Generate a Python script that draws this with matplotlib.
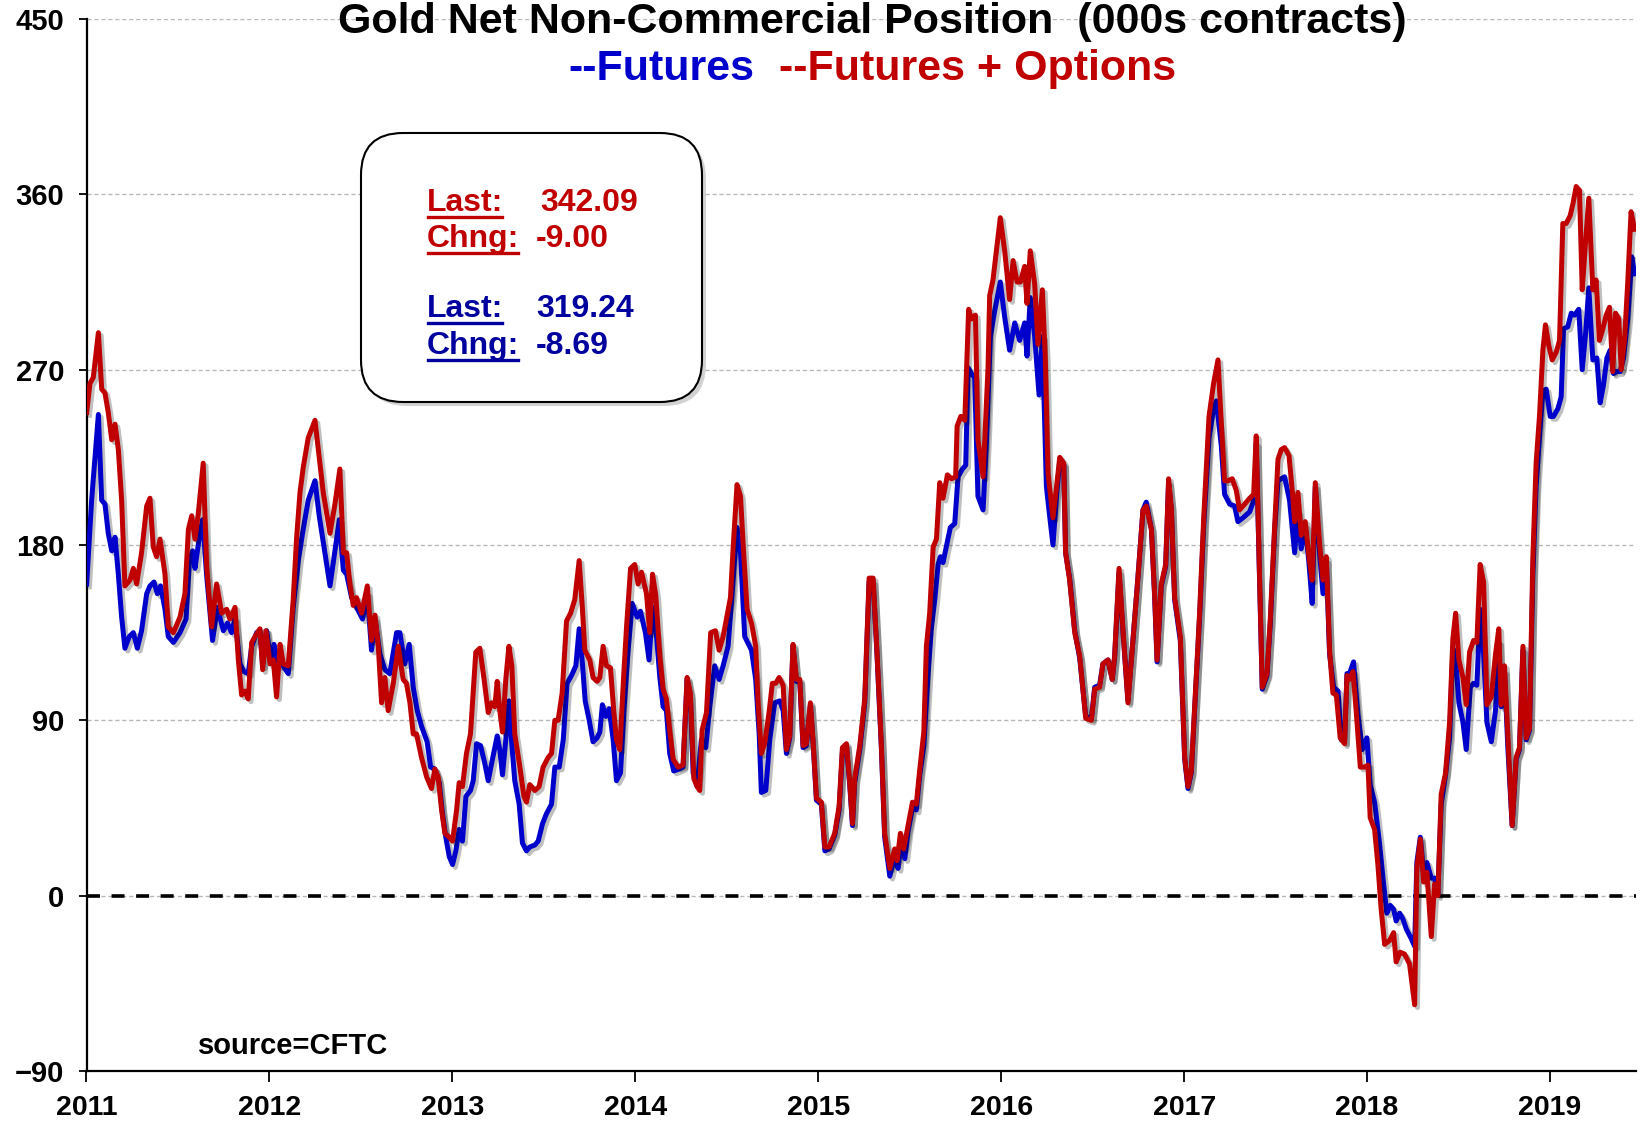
import numpy as np
import matplotlib
matplotlib.use("Agg")
import matplotlib.pyplot as plt
import matplotlib.patheffects as pe
from matplotlib.patches import FancyBboxPatch
from matplotlib.lines import Line2D

plt.rcParams['font.family'] = ['Liberation Sans', 'DejaVu Sans']

# net non-commercial position, 000s contracts (decimal year, value)
futopt_pts = [
    (2011.001,248),(2011.019,263),(2011.037,266),(2011.065,289),(2011.083,260),(2011.101,258),(2011.119,248),
    (2011.138,234),(2011.156,242),(2011.174,229),(2011.192,203),(2011.210,159),(2011.238,162),(2011.256,168),
    (2011.274,160),(2011.301,176),(2011.329,200),(2011.347,204),(2011.365,179),(2011.383,174),(2011.402,183),
    (2011.429,165),(2011.447,138),(2011.475,135),(2011.511,143),(2011.538,155),(2011.557,188),(2011.575,195),
    (2011.593,183),(2011.611,196),(2011.638,222),(2011.657,169),(2011.684,138),(2011.711,160),(2011.739,145),
    (2011.766,147),(2011.784,142),(2011.812,148),(2011.830,121),(2011.848,103),(2011.866,105),(2011.884,101),
    (2011.903,130),(2011.921,133),(2011.948,137),(2011.963,116),(2011.981,136),(2012.003,119),(2012.021,121),
    (2012.039,102),(2012.058,129),(2012.076,119),(2012.103,118),(2012.130,152),(2012.148,183),(2012.167,207),
    (2012.185,220),(2012.212,235),(2012.249,244),(2012.267,229),(2012.294,207),(2012.331,186),(2012.358,201),
    (2012.385,219),(2012.404,176),(2012.422,176),(2012.440,160),(2012.458,149),(2012.476,153),(2012.504,145),
    (2012.535,159),(2012.558,131),(2012.577,144),(2012.595,128),(2012.613,99),(2012.631,112),(2012.649,95),
    (2012.677,109),(2012.704,128),(2012.731,111),(2012.749,109),(2012.768,99),(2012.786,83),(2012.804,83),
    (2012.831,71),(2012.859,61),(2012.886,55),(2012.904,65),(2012.922,61),(2012.941,44),(2012.959,32),
    (2012.983,30),(2013.001,28),(2013.023,44),(2013.037,58),(2013.055,56),(2013.077,73),(2013.099,83),
    (2013.128,125),(2013.150,127),(2013.172,112),(2013.196,94),(2013.214,99),(2013.232,97),(2013.245,110),
    (2013.259,95),(2013.274,84),(2013.292,111),(2013.309,128),(2013.325,118),(2013.341,83),(2013.369,66),
    (2013.391,51),(2013.405,48),(2013.423,57),(2013.451,54),(2013.474,56),(2013.496,66),(2013.524,71),
    (2013.542,73),(2013.560,90),(2013.578,90),(2013.600,104),(2013.624,141),(2013.646,145),(2013.669,152),
    (2013.693,172),(2013.711,147),(2013.724,126),(2013.751,121),(2013.769,112),(2013.791,110),(2013.806,112),
    (2013.824,128),(2013.842,118),(2013.864,117),(2013.882,95),(2013.897,80),(2013.915,75),(2013.937,114),
    (2013.952,138),(2013.974,168),(2013.997,170),(2014.015,160),(2014.034,166),(2014.061,155),(2014.079,135),
    (2014.094,165),(2014.112,154),(2014.134,123),(2014.152,106),(2014.170,101),(2014.188,85),(2014.207,70),
    (2014.234,66),(2014.261,67),(2014.283,112),(2014.301,104),(2014.320,60),(2014.338,56),(2014.352,54),
    (2014.365,85),(2014.389,94),(2014.412,135),(2014.438,136),(2014.458,126),(2014.480,133),(2014.498,142),
    (2014.520,153),(2014.535,179),(2014.556,211),(2014.575,205),(2014.589,181),(2014.611,147),(2014.635,140),
    (2014.658,128),(2014.671,99),(2014.689,73),(2014.707,78),(2014.731,94),(2014.749,109),(2014.768,109),
    (2014.786,112),(2014.808,108),(2014.826,75),(2014.844,82),(2014.862,129),(2014.881,111),(2014.899,111),
    (2014.917,77),(2014.935,78),(2014.957,99),(2014.972,79),(2014.990,50),(2015.017,48),(2015.036,25),
    (2015.059,25),(2015.090,32),(2015.114,46),(2015.132,76),(2015.154,78),(2015.172,58),(2015.187,37),
    (2015.199,60),(2015.227,77),(2015.254,101),(2015.278,163),(2015.300,163),(2015.321,125),(2015.345,77),
    (2015.363,32),(2015.391,14),(2015.418,24),(2015.431,18),(2015.449,32),(2015.467,24),(2015.491,36),
    (2015.515,48),(2015.536,47),(2015.555,65),(2015.577,84),(2015.591,128),(2015.609,145),(2015.628,179),
    (2015.646,183),(2015.664,212),(2015.682,204),(2015.706,216),(2015.728,214),(2015.751,215),(2015.759,241),
    (2015.779,246),(2015.801,244),(2015.822,301),(2015.837,296),(2015.859,298),(2015.873,234),(2015.901,215),
    (2015.928,271),(2015.937,308),(2015.955,316),(2015.974,331),(2015.995,348),(2016.019,331),(2016.046,306),
    (2016.065,326),(2016.087,315),(2016.105,315),(2016.128,323),(2016.141,304),(2016.159,331),(2016.183,314),
    (2016.201,283),(2016.225,311),(2016.241,276),(2016.256,217),(2016.283,194),(2016.305,212),(2016.320,225),
    (2016.342,222),(2016.352,176),(2016.374,162),(2016.402,135),(2016.429,123),(2016.462,91),(2016.493,90),
    (2016.511,106),(2016.538,107),(2016.556,119),(2016.584,121),(2016.607,111),(2016.620,123),(2016.644,168),
    (2016.666,136),(2016.693,99),(2016.720,131),(2016.748,164),(2016.775,198),(2016.793,200),(2016.821,188),
    (2016.839,154),(2016.852,121),(2016.875,160),(2016.899,170),(2016.915,214),(2016.930,199),(2016.948,153),
    (2016.979,133),(2017.003,71),(2017.021,56),(2017.039,64),(2017.063,107),(2017.085,146),(2017.107,194),
    (2017.136,246),(2017.161,263),(2017.185,275),(2017.203,243),(2017.221,213),(2017.240,213),(2017.263,214),
    (2017.285,208),(2017.303,198),(2017.331,201),(2017.358,204),(2017.380,206),(2017.394,236),(2017.409,176),
    (2017.427,107),(2017.453,114),(2017.471,142),(2017.495,190),(2017.513,224),(2017.531,229),(2017.549,230),
    (2017.573,226),(2017.591,208),(2017.604,192),(2017.622,207),(2017.640,185),(2017.662,192),(2017.682,174),
    (2017.700,162),(2017.717,212),(2017.740,181),(2017.759,162),(2017.777,174),(2017.795,126),(2017.813,104),
    (2017.832,103),(2017.853,81),(2017.877,78),(2017.890,113),(2017.904,111),(2017.923,115),(2017.941,94),
    (2017.963,66),(2017.986,66),(2018.005,67),(2018.017,40),(2018.041,34),(2018.059,16),(2018.077,-7),
    (2018.096,-25),(2018.123,-23),(2018.145,-19),(2018.159,-34),(2018.181,-29),(2018.205,-30),(2018.232,-35),
    (2018.260,-56),(2018.272,14),(2018.291,29),(2018.309,7),(2018.327,12),(2018.351,-21),(2018.369,6),
    (2018.387,0),(2018.405,52),(2018.429,63),(2018.451,89),(2018.469,132),(2018.484,145),(2018.502,121),
    (2018.524,112),(2018.542,98),(2018.560,125),(2018.582,131),(2018.600,130),(2018.618,170),(2018.637,161),
    (2018.655,98),(2018.679,102),(2018.702,124),(2018.720,137),(2018.733,98),(2018.751,118),(2018.770,81),
    (2018.793,36),(2018.815,71),(2018.833,76),(2018.852,128),(2018.870,81),(2018.888,86),(2018.906,173),
    (2018.924,222),(2018.943,247),(2018.961,280),(2018.975,293),(2018.994,282),(2019.012,275),(2019.034,279),
    (2019.052,285),(2019.070,345),(2019.088,345),(2019.110,349),(2019.125,355),(2019.143,364),(2019.161,362),
    (2019.176,311),(2019.194,335),(2019.212,358),(2019.234,311),(2019.252,316),(2019.270,285),(2019.289,291),
    (2019.307,298),(2019.325,302),(2019.343,269),(2019.358,299),(2019.376,296),(2019.389,270),(2019.407,285),
    (2019.425,315),(2019.443,351.09),(2019.462,342.09),
]

futures_pts = [
    (2011.001,160),(2011.028,203),(2011.065,247),(2011.083,203),(2011.101,201),(2011.119,186),(2011.138,177),
    (2011.156,184),(2011.174,165),(2011.192,143),(2011.210,127),(2011.234,133),(2011.256,135),(2011.278,127),
    (2011.301,136),(2011.329,155),(2011.347,159),(2011.369,161),(2011.387,155),(2011.405,159),(2011.429,147),
    (2011.447,133),(2011.475,130),(2011.511,135),(2011.544,142),(2011.562,171),(2011.580,177),(2011.593,168),
    (2011.620,186),(2011.635,193),(2011.657,164),(2011.689,131),(2011.715,148),(2011.748,136),(2011.771,140),
    (2011.793,135),(2011.811,142),(2011.839,119),(2011.861,115),(2011.884,114),(2011.903,128),(2011.930,135),
    (2011.948,136),(2011.963,118),(2011.985,136),(2012.006,121),(2012.025,129),(2012.048,118),(2012.067,119),
    (2012.103,114),(2012.130,148),(2012.158,172),(2012.181,186),(2012.212,203),(2012.249,213),(2012.272,195),
    (2012.303,176),(2012.331,159),(2012.358,177),(2012.382,193),(2012.404,167),(2012.422,165),(2012.449,153),
    (2012.476,148),(2012.509,142),(2012.535,155),(2012.558,126),(2012.577,142),(2012.604,124),(2012.631,116),
    (2012.658,114),(2012.695,135),(2012.713,135),(2012.740,119),(2012.764,129),(2012.786,107),(2012.808,95),
    (2012.831,87),(2012.862,79),(2012.881,66),(2012.904,65),(2012.928,58),(2012.946,42),(2012.964,30),
    (2012.983,20),(2013.001,16),(2013.019,23),(2013.037,34),(2013.055,28),(2013.074,51),(2013.099,54),
    (2013.114,59),(2013.132,78),(2013.154,77),(2013.177,68),(2013.196,59),(2013.219,70),(2013.245,82),
    (2013.259,75),(2013.274,62),(2013.292,80),(2013.309,100),(2013.323,80),(2013.341,59),(2013.365,47),
    (2013.383,27),(2013.405,23),(2013.423,25),(2013.451,26),(2013.469,28),(2013.493,37),(2013.514,42),
    (2013.542,47),(2013.560,66),(2013.584,66),(2013.606,80),(2013.627,109),(2013.651,113),(2013.675,118),
    (2013.693,137),(2013.711,119),(2013.726,100),(2013.748,90),(2013.769,79),(2013.791,81),(2013.806,84),
    (2013.820,98),(2013.839,92),(2013.857,96),(2013.879,80),(2013.897,59),(2013.919,63),(2013.937,94),
    (2013.959,124),(2013.983,150),(2014.010,143),(2014.028,146),(2014.055,135),(2014.075,121),(2014.094,148),
    (2014.116,133),(2014.134,112),(2014.152,97),(2014.170,95),(2014.188,73),(2014.210,64),(2014.239,65),
    (2014.261,66),(2014.283,111),(2014.301,102),(2014.316,63),(2014.338,56),(2014.361,80),(2014.385,76),
    (2014.407,97),(2014.434,118),(2014.458,111),(2014.480,118),(2014.507,128),(2014.525,150),(2014.556,189),
    (2014.575,176),(2014.598,133),(2014.635,126),(2014.658,111),(2014.677,83),(2014.689,53),(2014.713,54),
    (2014.735,80),(2014.762,99),(2014.790,100),(2014.808,95),(2014.826,73),(2014.844,81),(2014.862,128),
    (2014.881,110),(2014.899,110),(2014.917,76),(2014.935,77),(2014.957,98),(2014.972,78),(2014.990,49),
    (2015.017,47),(2015.036,23),(2015.059,24),(2015.090,31),(2015.114,44),(2015.132,74),(2015.154,77),
    (2015.172,57),(2015.187,36),(2015.199,58),(2015.227,75),(2015.254,99),(2015.278,161),(2015.300,161),
    (2015.321,124),(2015.345,76),(2015.363,30),(2015.391,10),(2015.418,20),(2015.436,14),(2015.454,28),
    (2015.473,19),(2015.491,33),(2015.515,45),(2015.536,44),(2015.555,62),(2015.577,77),(2015.600,113),
    (2015.618,137),(2015.637,152),(2015.655,170),(2015.668,174),(2015.682,171),(2015.700,179),(2015.722,189),
    (2015.746,191),(2015.764,215),(2015.788,219),(2015.806,221),(2015.819,271),(2015.837,268),(2015.855,266),
    (2015.873,205),(2015.901,198),(2015.919,232),(2015.941,287),(2015.964,300),(2015.995,315),(2016.019,297),
    (2016.046,280),(2016.074,294),(2016.101,285),(2016.128,294),(2016.141,277),(2016.159,307),(2016.183,287),
    (2016.207,257),(2016.225,287),(2016.247,210),(2016.261,198),(2016.283,180),(2016.305,208),(2016.320,223),
    (2016.342,221),(2016.352,176),(2016.374,163),(2016.402,136),(2016.429,122),(2016.462,92),(2016.493,91),
    (2016.511,107),(2016.538,108),(2016.556,119),(2016.584,121),(2016.607,111),(2016.620,122),(2016.644,166),
    (2016.666,135),(2016.693,100),(2016.720,131),(2016.748,164),(2016.775,198),(2016.793,202),(2016.821,188),
    (2016.839,153),(2016.852,120),(2016.875,159),(2016.899,169),(2016.915,212),(2016.930,198),(2016.948,152),
    (2016.979,131),(2017.003,70),(2017.021,55),(2017.039,63),(2017.063,105),(2017.085,144),(2017.107,190),
    (2017.136,235),(2017.161,250),(2017.176,254),(2017.203,231),(2017.221,206),(2017.249,201),(2017.276,200),
    (2017.294,192),(2017.322,194),(2017.358,197),(2017.385,204),(2017.394,232),(2017.409,175),(2017.427,106),
    (2017.453,113),(2017.471,140),(2017.495,188),(2017.513,213),(2017.549,215),(2017.576,203),(2017.604,176),
    (2017.622,197),(2017.640,178),(2017.662,190),(2017.682,171),(2017.700,150),(2017.717,210),(2017.740,176),
    (2017.759,155),(2017.777,172),(2017.795,124),(2017.817,107),(2017.841,105),(2017.859,80),(2017.877,79),
    (2017.890,114),(2017.904,114),(2017.926,120),(2017.950,93),(2017.974,75),(2017.999,81),(2018.017,57),
    (2018.041,48),(2018.068,27),(2018.087,9),(2018.108,-9),(2018.127,-5),(2018.145,-7),(2018.159,-13),
    (2018.178,-9),(2018.196,-12),(2018.214,-17),(2018.241,-22),(2018.260,-26),(2018.272,17),(2018.291,30),
    (2018.309,12),(2018.327,17),(2018.351,9),(2018.369,9),(2018.387,1),(2018.405,47),(2018.429,62),
    (2018.451,81),(2018.469,127),(2018.484,122),(2018.502,99),(2018.524,89),(2018.542,75),(2018.564,107),
    (2018.582,109),(2018.600,108),(2018.618,147),(2018.637,124),(2018.655,89),(2018.679,79),(2018.702,95),
    (2018.720,130),(2018.733,97),(2018.751,115),(2018.770,75),(2018.793,36),(2018.815,70),(2018.833,75),
    (2018.852,126),(2018.870,80),(2018.888,85),(2018.906,164),(2018.924,210),(2018.943,236),(2018.961,259),
    (2018.979,260),(2019.001,246),(2019.019,246),(2019.043,250),(2019.061,256),(2019.074,291),(2019.097,292),
    (2019.116,299),(2019.134,298),(2019.157,301),(2019.176,270),(2019.194,288),(2019.212,312),(2019.234,275),
    (2019.256,276),(2019.274,253),(2019.292,262),(2019.311,276),(2019.329,280),(2019.347,268),(2019.365,269),
    (2019.383,269),(2019.402,276),(2019.425,296),(2019.447,327.93),(2019.462,319.24),
]

years = [2011, 2012, 2013, 2014, 2015, 2016, 2017, 2018, 2019]
yticks = [-90, 0, 90, 180, 270, 360, 450]

fo_last, fo_chng = "342.09", "-9.00"
fu_last, fu_chng = "319.24", "-8.69"

RED = '#C00000'
BLUE = '#0000CC'
BOXBLUE = '#00009E'

fo = np.array(futopt_pts)
fu = np.array(futures_pts)

W, H = 1650, 1124
fig = plt.figure(figsize=(W / 100, H / 100), dpi=100)
ax = fig.add_axes([86.5 / W, 1 - 1071 / H, (1636 - 86.5) / W, (1071 - 19) / H])

for y in yticks[1:]:
    ax.axhline(y, color='#B8B8B8', lw=1.0, ls=(0, (3, 2)), zorder=1)
ax.axhline(0, color='black', lw=2.6, ls=(0, (3.6, 3.2)), zorder=2)

shadow = [pe.SimpleLineShadow(offset=(2, -2), shadow_color='black', alpha=0.25), pe.Normal()]
ax.plot(fu[:, 0], fu[:, 1], color=BLUE, lw=3.6, solid_joinstyle='round', path_effects=shadow, zorder=3)
ax.plot(fo[:, 0], fo[:, 1], color=RED, lw=3.6, solid_joinstyle='round', path_effects=shadow, zorder=4)

ax.set_xlim(2011, 2019.47)
ax.set_ylim(-90, 450)
ax.set_yticks(yticks)
ax.set_xticks(years)
ax.set_xticklabels([str(y) for y in years])
for s in ['top', 'right']:
    ax.spines[s].set_visible(False)
for s in ['left', 'bottom']:
    ax.spines[s].set_linewidth(1.6)
ax.tick_params(axis='y', direction='out', length=6, width=1.3, pad=10, labelsize=21)
ax.tick_params(axis='x', direction='out', length=8, width=1.3, pad=9, labelsize=20.5)
for lab in ax.get_xticklabels() + ax.get_yticklabels():
    lab.set_fontweight('bold')

# title
fig.text(872 / W, 1 - 22 / H, "Gold Net Non-Commercial Position  (000s contracts)",
         ha='center', va='center', fontsize=31, fontweight='bold')
fig.text(568 / W, 1 - 69 / H, "--Futures", color=BLUE, ha='left', va='center',
         fontsize=31, fontweight='bold')
fig.text(779 / W, 1 - 69 / H, "--Futures + Options", color=RED, ha='left', va='center',
         fontsize=31, fontweight='bold')

fig.text(198 / W, 1 - 1046 / H, "source=CFTC", ha='left', va='center', fontsize=21, fontweight='bold')

# info box (pixel coords)
bx, by, bw, bh = 361, H - 402, 341, 269
fig.patches.append(FancyBboxPatch((bx + 4, by - 4), bw, bh, boxstyle="round,pad=0,rounding_size=42",
                                  transform=None, facecolor='#909090', edgecolor='none', alpha=0.4,
                                  figure=fig, zorder=5))
fig.patches.append(FancyBboxPatch((bx, by), bw, bh, boxstyle="round,pad=0,rounding_size=42",
                                  transform=None, facecolor='white', edgecolor='black', lw=1.5,
                                  figure=fig, zorder=6))

labels = []
rows = [("Last:", fo_last, 203, RED, 540), ("Chng:", fo_chng, 239, RED, 536),
        ("Last:", fu_last, 309, BOXBLUE, 536), ("Chng:", fu_chng, 346, BOXBLUE, 536)]
for name, val, py, col, vx in rows:
    t = fig.text(427 / W, 1 - py / H, name, color=col, ha='left', va='center',
                 fontsize=23, fontweight='bold', zorder=7)
    fig.text(vx / W, 1 - py / H, val, color=col, ha='left', va='center',
             fontsize=23, fontweight='bold', zorder=7)
    labels.append((t, col))

fig.canvas.draw()
r = fig.canvas.get_renderer()
for t, col in labels:
    bb = t.get_window_extent(r)
    fig.lines.append(Line2D([bb.x0 + 1, bb.x1 - 1], [bb.y0 + 1, bb.y0 + 1], transform=None,
                            color=col, lw=2.4, figure=fig, zorder=8))

fig.savefig("out.png", dpi=100)
